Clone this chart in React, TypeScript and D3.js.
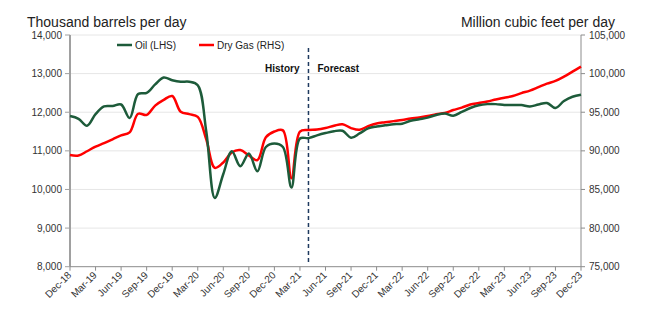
import React from "react";
import * as d3 from "d3";

const tickLabels = ["Dec-18","Mar-19","Jun-19","Sep-19","Dec-19","Mar-20","Jun-20","Sep-20","Dec-20","Mar-21","Jun-21","Sep-21","Dec-21","Mar-22","Jun-22","Sep-22","Dec-22","Mar-23","Jun-23","Sep-23","Dec-23"];

// Monthly values Dec-18 .. Dec-23 (61 months)
const oil = [
  11900, 11830, 11650, 11950, 12150, 12160, 12200, 11850, 12470, 12500,
  12720, 12900, 12830, 12790, 12790, 12700, 11500, 9780, 10400, 10990,
  10600, 10930, 10470, 11100, 11190, 11100, 10050, 11320, 11330, 11400,
  11460, 11510, 11520, 11340, 11450, 11580, 11630, 11660, 11690, 11700,
  11780, 11820, 11860, 11930, 11970, 11910, 12010, 12110, 12180, 12210,
  12210, 12190, 12190, 12185, 12150, 12200, 12240, 12110, 12290, 12400,
  12450,
];

const gas = [
  89450, 89400, 89950, 90550, 91000, 91500, 92000, 92400, 94800, 94650,
  95850, 96600, 97100, 95050, 94750, 94400, 91500, 87800, 88500, 89800,
  90100, 89400, 88800, 91750, 92500, 92650, 86450, 92500, 92700, 92750,
  92950, 93250, 93450, 92950, 92725, 93200, 93550, 93700, 93850, 94000,
  94175, 94325, 94500, 94750, 94900, 95285, 95600, 96000, 96200, 96400,
  96650, 96875, 97100, 97475, 97800, 98250, 98700, 99050, 99600, 100250,
  100900,
];

const leftTicks = [8000, 9000, 10000, 11000, 12000, 13000, 14000];
const rightTicks = [75000, 80000, 85000, 90000, 95000, 100000, 105000];
const forecastStart = 28; // Apr-21

const W = 650, H = 321;
const L = 70, R = 581, T = 35, B = 266.7;
const FONT = "Liberation Sans, Arial, sans-serif";

export default function App() {
  const x = d3.scaleLinear().domain([0, oil.length - 1]).range([L, R]);
  const yL = d3.scaleLinear().domain([8000, 14000]).range([B, T]);
  const yR = d3.scaleLinear().domain([75000, 105000]).range([B, T]);
  const fmt = d3.format(",");

  const oilLine = d3.line<number>().x((_, i) => x(i)).y(d => yL(d)).curve(d3.curveCatmullRom.alpha(0.5));
  const gasLine = d3.line<number>().x((_, i) => x(i)).y(d => yR(d)).curve(d3.curveCatmullRom.alpha(0.5));

  return (
    <svg width={W} height={H} style={{ position: "absolute", left: 0, top: 0, background: "#fff" }} fontFamily={FONT}>
      {/* gridlines */}
      {leftTicks.slice(1).map(t => (
        <line key={"g" + t} x1={L} x2={R} y1={yL(t)} y2={yL(t)} stroke="#e6e6e6" strokeWidth={1} />
      ))}
      {/* titles */}
      <text x={27} y={27} fontSize={14} fill="#222">Thousand barrels per day</text>
      <text x={615} y={27} fontSize={14} fill="#222" textAnchor="end">Million cubic feet per day</text>
      {/* left axis */}
      <line x1={L} x2={L} y1={T} y2={B} stroke="#a0a0a0" strokeWidth={2} />
      {leftTicks.map(t => (
        <g key={"l" + t}>
          <line x1={L - 5} x2={L} y1={yL(t)} y2={yL(t)} stroke="#a0a0a0" strokeWidth={1} />
          <text x={L - 8} y={yL(t) + 3.5} fontSize={10} textAnchor="end" fill="#333">{fmt(t)}</text>
        </g>
      ))}
      {/* right axis */}
      <line x1={R} x2={R} y1={T} y2={B} stroke="#8c8c8c" strokeWidth={1} />
      {rightTicks.map(t => (
        <g key={"r" + t}>
          <line x1={R} x2={R + 4} y1={yR(t)} y2={yR(t)} stroke="#8c8c8c" strokeWidth={1} />
          <text x={R + 8} y={yR(t) + 3.5} fontSize={10} fill="#333">{fmt(t)}</text>
        </g>
      ))}
      {/* bottom axis */}
      <line x1={L} x2={R} y1={B} y2={B} stroke="#8c8c8c" strokeWidth={1} />
      {tickLabels.map((lab, k) => {
        const xx = x(k * 3);
        return (
          <g key={"x" + lab}>
            <line x1={xx} x2={xx} y1={B} y2={B + 4} stroke="#8c8c8c" strokeWidth={1} />
            <text transform={`translate(${xx + 2},${B + 9}) rotate(-45)`} fontSize={10} textAnchor="end" fill="#333">{lab}</text>
          </g>
        );
      })}
      {/* forecast divider */}
      <line x1={x(forecastStart)} x2={x(forecastStart)} y1={48} y2={263} stroke="#1f3a5f" strokeWidth={1.5} strokeDasharray="4,3" />
      <text x={x(forecastStart) - 9} y={72} fontSize={10} fontWeight="bold" textAnchor="end" fill="#111">History</text>
      <text x={x(forecastStart) + 9} y={72} fontSize={10} fontWeight="bold" fill="#111">Forecast</text>
      {/* series */}
      <path d={gasLine(gas) || ""} fill="none" stroke="#ff0000" strokeWidth={2.5} />
      <path d={oilLine(oil) || ""} fill="none" stroke="#1d5b3a" strokeWidth={2.5} />
      {/* legend */}
      <line x1={117} x2={132} y1={45} y2={45} stroke="#1d5b3a" strokeWidth={2.5} />
      <text x={135} y={48.5} fontSize={10} fill="#222">Oil (LHS)</text>
      <line x1={199} x2={214} y1={45} y2={45} stroke="#ff0000" strokeWidth={2.5} />
      <text x={217} y={48.5} fontSize={10} fill="#222">Dry Gas (RHS)</text>
    </svg>
  );
}
